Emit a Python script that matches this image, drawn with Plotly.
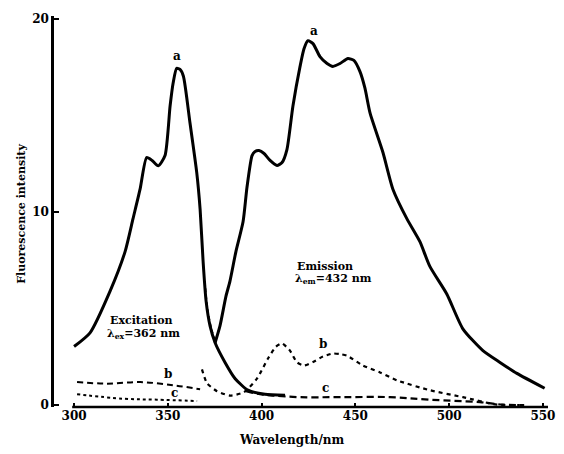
import plotly.graph_objects as go

# ---- data (wavelength in nm, fluorescence intensity) ----
exc_a_x = [300, 308.5, 319.2, 327.2, 331.4, 335.2, 338.7, 341.6, 344.9, 348.5, 351.2, 352.8, 354.7,
           356.5, 358.3, 361.8, 365.4, 367.2, 368.8, 370.4, 372.5, 375.2, 380.5, 385.8, 392.7, 401.8, 412.5]
exc_a_y = [3.03, 3.74, 5.90, 7.95, 9.64, 11.18, 12.82, 12.67, 12.39, 12.92, 15.49, 16.67, 17.44,
           17.38, 17.03, 14.62, 12.05, 10.15, 7.44, 5.38, 4.10, 3.23, 2.21, 1.38, 0.77, 0.56, 0.51]

em_a_x = [375.2, 377.8, 381.0, 383.1, 386.3, 390.1, 392.2, 394.9, 396.5, 398.6, 401.3, 404.5, 408.2,
          410.9, 413.5, 416.7, 420.5, 422.6, 424.7, 427.4, 431.1, 434.9, 438.0, 441.8, 446.0, 449.2,
          452.4, 455.1, 457.8, 464.7, 470.0, 477.5, 484.4, 489.7, 498.8, 507.3, 518.0, 527.1, 536.1, 550.9]
em_a_y = [3.23, 4.10, 5.64, 6.41, 7.95, 9.49, 11.28, 12.92, 13.13, 13.18, 13.03, 12.67, 12.41,
          12.56, 13.23, 15.49, 17.54, 18.46, 18.87, 18.72, 18.05, 17.69, 17.54, 17.69, 17.95, 17.85,
          17.28, 16.41, 15.13, 13.08, 11.18, 9.64, 8.46, 7.18, 5.74, 3.95, 2.82, 2.21, 1.64, 0.87]

exc_b_x = [301.6, 317.6, 335.2, 352.8, 367.2]
exc_b_y = [1.19, 1.11, 1.19, 1.03, 0.82]

exc_b2_x = [369.8, 371.4, 373.6, 375.7]
exc_b2_y = [6.41, 4.87, 3.85, 3.23]

exc_c_x = [301.6, 326.1, 344.2, 365.6]
exc_c_y = [0.56, 0.33, 0.28, 0.21]

em_b_x = [368.2, 370.9, 376.2, 383.2, 390.6, 397.6, 403.4, 407.7, 410.9, 415.1, 418.9, 422.6, 427.4,
          432.7, 438.0, 441.8, 445.5, 454.0, 463.1, 472.2, 489.7, 507.3, 525.5, 537.7]
em_b_y = [1.85, 1.13, 0.72, 0.49, 0.67, 1.38, 2.41, 3.03, 3.19, 2.82, 2.21, 2.05, 2.23,
          2.51, 2.67, 2.64, 2.56, 2.05, 1.69, 1.28, 0.77, 0.41, 0.02, 0.0]

em_c_x = [391.7, 399.1, 406.1, 420.5, 441.8, 468.4, 489.7, 516.4, 528.7, 540.0]
em_c_y = [0.72, 0.56, 0.49, 0.41, 0.41, 0.41, 0.28, 0.15, 0.02, 0.0]

x_ticks = [300, 350, 400, 450, 500, 550]
y_ticks = [0, 10, 20]

FONT = "DejaVu Serif"

fig = go.Figure()
fig.add_trace(go.Scatter(x=exc_a_x, y=exc_a_y, mode="lines", line=dict(color="black", width=3, shape="spline", smoothing=0.6)))
fig.add_trace(go.Scatter(x=em_a_x, y=em_a_y, mode="lines", line=dict(color="black", width=3, shape="spline", smoothing=0.6)))
fig.add_trace(go.Scatter(x=exc_b_x, y=exc_b_y, mode="lines", line=dict(color="black", width=2, dash="6px,4px", shape="spline")))
fig.add_trace(go.Scatter(x=exc_b2_x, y=exc_b2_y, mode="lines", line=dict(color="black", width=1.5, dash="4px,3px", shape="spline")))
fig.add_trace(go.Scatter(x=exc_c_x, y=exc_c_y, mode="lines", line=dict(color="black", width=2, dash="3px,3px", shape="spline")))
fig.add_trace(go.Scatter(x=em_b_x, y=em_b_y, mode="lines", line=dict(color="black", width=2.2, dash="4px,4px", shape="spline", smoothing=0.6)))
fig.add_trace(go.Scatter(x=em_c_x, y=em_c_y, mode="lines", line=dict(color="black", width=2.2, dash="7px,4px", shape="spline")))

# x axis line (drawn separately: it starts right of the y axis in the original)
fig.add_shape(type="line", xref="x", yref="paper", x0=299, x1=552.7, y0=0, y1=0,
              line=dict(color="black", width=2.5))

ann_font = dict(family=FONT, size=12, color="black", weight="bold")
labels = [
    (354.9, 18.1, "a"), (428.0, 19.35, "a"),
    (350.1, 1.6, "b"), (353.8, 0.65, "c"),
    (432.7, 3.15, "b"), (434.3, 0.9, "c"),
]
for x, y, t in labels:
    fig.add_annotation(x=x, y=y, text=t, showarrow=False, font=ann_font)

text_font = dict(family=FONT, size=11, color="black", weight="bold")
fig.add_annotation(x=318.0, y=4.4, text="Excitation", showarrow=False, xanchor="left", font=text_font)
fig.add_annotation(x=316.5, y=3.7, text="λ<sub>ex</sub>=362 nm", showarrow=False, xanchor="left", font=text_font)
fig.add_annotation(x=417.8, y=7.2, text="Emission", showarrow=False, xanchor="left", font=text_font)
fig.add_annotation(x=416.7, y=6.55, text="λ<sub>em</sub>=432 nm", showarrow=False, xanchor="left", font=text_font)

# axis titles
fig.add_annotation(xref="paper", yref="paper", x=-0.082, y=0.494, text="Fluorescence intensity",
                   textangle=-90, showarrow=False, font=dict(family=FONT, size=11, color="black", weight="bold"))
fig.add_annotation(xref="paper", yref="paper", x=0.482, y=-0.061, yanchor="top", text="Wavelength/nm",
                   showarrow=False, font=dict(family=FONT, size=12, color="black", weight="bold"))

# the page body adds an 8px margin, so the figure is sized to fit inside 564x454
fig.update_layout(
    width=556, height=446, autosize=False,
    margin=dict(l=46, r=16, t=4, b=47),
    paper_bgcolor="white", plot_bgcolor="white",
    showlegend=False,
)
fig.update_xaxes(range=[289.3, 552.7], tickvals=x_ticks, ticks="inside", ticklen=4, tickwidth=2,
                 tickcolor="black", showgrid=False, zeroline=False, showline=False,
                 tickfont=dict(family=FONT, size=12, color="black", weight="bold"))
fig.update_yaxes(range=[-0.1, 20.15], tickvals=y_ticks, ticks="inside", ticklen=5, tickwidth=2,
                 tickcolor="black", showgrid=False, zeroline=False, showline=True, linewidth=2.5,
                 linecolor="black",
                 tickfont=dict(family=FONT, size=12, color="black", weight="bold"))

fig.write_html("out.html")
